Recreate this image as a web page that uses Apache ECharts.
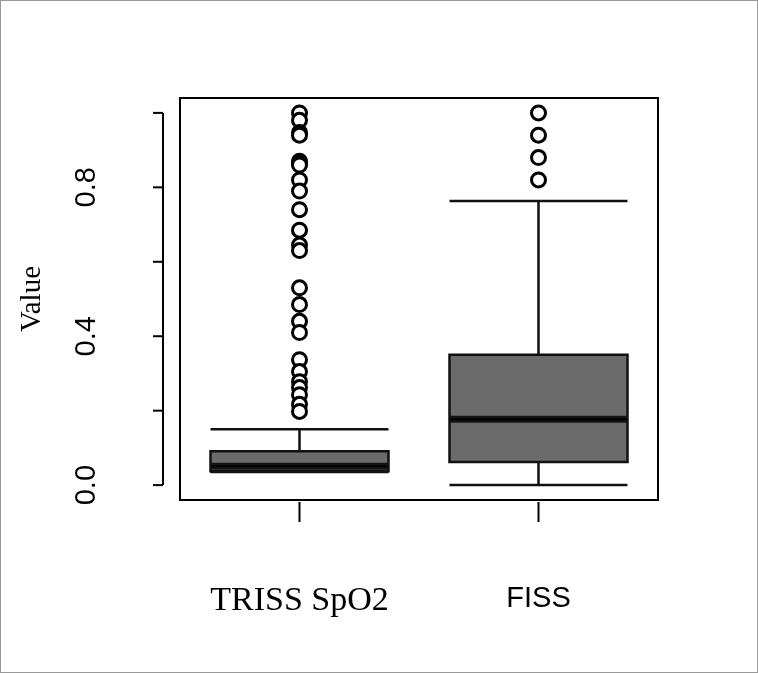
<!DOCTYPE html>
<html><head><meta charset="utf-8">
<script src="https://cdn.jsdelivr.net/npm/echarts@6/dist/echarts.min.js"></script>
<style>html,body{margin:0;padding:0;background:#fff}#c{width:758px;height:673px;box-sizing:border-box;border:1px solid #999}</style>
</head><body><div id="c"></div>
<script>
const categories = ['TRISS SpO2', 'FISS'];
// [min, Q1, median, Q3, max]
const boxValues = [
  [0.035, 0.037, 0.051, 0.091, 0.15],
  [0.0, 0.062, 0.177, 0.35, 0.763]
];
const trissOutliers = [1.0, 0.98, 0.947, 0.94, 0.87, 0.865, 0.86, 0.82, 0.79, 0.74, 0.685, 0.645, 0.63, 0.53, 0.485, 0.44, 0.41, 0.337, 0.305, 0.278, 0.262, 0.243, 0.217, 0.198];
const fissOutliers = [1.0, 0.94, 0.88, 0.82];
const yTicks = [0, 0.2, 0.4, 0.6, 0.8, 1.0];
const yLabels = ['0.0', '0.4', '0.8'];

const chart = echarts.init(document.getElementById('c'));
const outData = trissOutliers.map(v => [0, v]).concat(fissOutliers.map(v => [1, v]));
chart.setOption({
  animation: false,
  grid: {left: 179, right: 99, top: 97, bottom: 172, show: true, borderColor: '#000', borderWidth: 2, backgroundColor: 'transparent'},
  xAxis: {
    type: 'category', data: categories, boundaryGap: true,
    axisLine: {show: false},
    axisTick: {show: false},
    axisLabel: {margin: 84, color: '#000', formatter: (v, i) => i === 0 ? '{a|' + v + '}' : '{b|' + v + '}',
      rich: {a: {fontFamily: 'Liberation Serif', fontSize: 34, color: '#000'}, b: {fontFamily: 'Liberation Sans', fontSize: 29, color: '#000'}}},
    splitLine: {show: false}
  },
  yAxis: {
    type: 'value', min: -0.04, max: 1.04,
    axisLine: {show: false}, axisTick: {show: false}, splitLine: {show: false},
    axisLabel: {show: false},
    name: 'Value', nameLocation: 'middle', nameGap: 133, nameRotate: 90,
    nameTextStyle: {fontFamily: 'Liberation Serif', fontSize: 29, color: '#000'}
  },
  series: [
    {type: 'boxplot', data: boxValues, boxWidth: [178, 178],
     itemStyle: {color: '#6b6b6b', borderColor: '#111', borderWidth: 2.5}},
    {type: 'scatter', data: outData, symbol: 'circle', symbolSize: 14, z: 6,
     itemStyle: {color: '#fff', borderColor: '#000', borderWidth: 3, opacity: 1}},
    {type: 'scatter', data: boxValues.map((b, i) => [i, b[2]]), symbol: 'rect', symbolSize: [176, 7],
     itemStyle: {color: '#000'}, z: 5}
  ]
});
// detached R-style y axis
const gfx = [];
const ax = 162;
const p0 = chart.convertToPixel({yAxisIndex: 0}, yTicks[0]);
const p1 = chart.convertToPixel({yAxisIndex: 0}, yTicks[yTicks.length - 1]);
gfx.push({type: 'line', shape: {x1: ax, y1: p0, x2: ax, y2: p1}, style: {stroke: '#000', lineWidth: 2}});
yTicks.forEach(t => {
  const p = chart.convertToPixel({yAxisIndex: 0}, t);
  gfx.push({type: 'line', shape: {x1: ax - 10, y1: p, x2: ax, y2: p}, style: {stroke: '#000', lineWidth: 2}});
});
yLabels.forEach(l => {
  const p = chart.convertToPixel({yAxisIndex: 0}, parseFloat(l));
  gfx.push({type: 'text', x: 86, y: p, rotation: Math.PI / 2,
    style: {text: l, fontFamily: 'Liberation Sans', fontSize: 29, fill: '#000', align: 'center', verticalAlign: 'middle'}});
});
categories.forEach((c, i) => {
  const x = chart.convertToPixel({xAxisIndex: 0}, i);
  gfx.push({type: 'line', shape: {x1: x, y1: 501, x2: x, y2: 521}, style: {stroke: '#000', lineWidth: 2}});
});
chart.setOption({graphic: gfx});
</script></body></html>
